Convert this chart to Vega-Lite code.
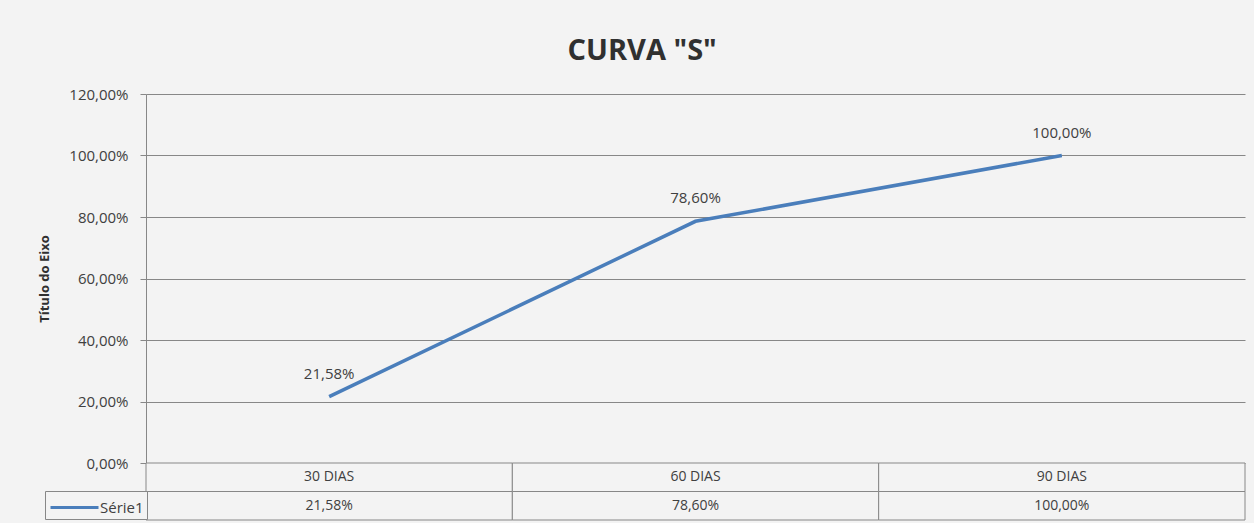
{
  "$schema": "https://vega.github.io/schema/vega-lite/v6.json",
  "padding": {"left": 38, "top": 37, "right": 8, "bottom": 2},
  "background": "#f3f3f3",
  "bounds": "flush",
  "title": {"text": "CURVA \"S\"", "anchor": "middle", "fontSize": 29, "fontWeight": "bold", "font": "Open Sans", "color": "#303030", "offset": 21},
  "datasets": {
    "pts": [
      {"dias": "30 DIAS", "valor": 0.2158, "serie": "Série1"},
      {"dias": "60 DIAS", "valor": 0.786, "serie": "Série1"},
      {"dias": "90 DIAS", "valor": 1.0, "serie": "Série1"}
    ]
  },
  "spacing": 0,
  "vconcat": [
    {
      "width": 1099,
      "height": 369,
      "data": {"name": "pts"},
      "encoding": {
        "x": {"field": "dias", "type": "nominal", "sort": null, "scale": {"paddingInner": 0, "paddingOuter": 0}, "axis": null},
        "y": {"field": "valor", "type": "quantitative", "scale": {"domain": [0, 1.2], "nice": false},
          "axis": {"values": [0, 0.2, 0.4, 0.6, 0.8, 1.0, 1.2], "format": ".2%", "grid": true, "gridColor": "#878787", "domainColor": "#878787", "tickColor": "#878787", "tickSize": 6, "labelFontSize": 15, "labelColor": "#404040", "labelPadding": 12, "title": "Título do Eixo", "titleFontSize": 13, "titleFontWeight": "bold", "titleColor": "#303030", "titlePadding": 17}}
      },
      "layer": [
        {
          "mark": {"type": "line", "strokeWidth": 3.5},
          "encoding": {
            "color": {"field": "serie", "type": "nominal", "scale": {"range": ["#4a7ebb"]},
              "legend": {"orient": "none", "legendX": -101, "legendY": 397, "title": null, "symbolType": "M-2,0H2", "symbolSize": 576, "symbolStrokeWidth": 3, "symbolStrokeColor": "#4a7ebb", "symbolOffset": 13, "labelOffset": 12, "padding": 3, "strokeColor": "#878787", "fillColor": "#f3f3f3", "labelFontSize": 15, "labelColor": "#404040", "labelFont": "Open Sans", "cornerRadius": 0}}
          }
        },
        {
          "mark": {"type": "text", "dy": -23, "fontSize": 15, "color": "#404040", "font": "Open Sans"},
          "encoding": {"text": {"field": "valor", "type": "quantitative", "format": ".2%"}}
        }
      ]
    },
    {
      "width": 1099,
      "height": 57,
      "data": {"name": "pts"},
      "encoding": {
        "x": {"field": "dias", "type": "nominal", "sort": null, "scale": {"paddingInner": 0, "paddingOuter": 0}, "axis": null}
      },
      "layer": [
        {
          "mark": {"type": "rect", "fill": "#f3f3f3", "stroke": "#878787", "strokeWidth": 1},
          "encoding": {"y": {"datum": "h", "type": "nominal", "scale": {"domain": ["h", "v"], "paddingInner": 0, "paddingOuter": 0}, "axis": null}}
        },
        {
          "mark": {"type": "rect", "fill": "#f3f3f3", "stroke": "#878787", "strokeWidth": 1},
          "encoding": {"y": {"datum": "v", "type": "nominal"}}
        },
        {
          "mark": {"type": "text", "fontSize": 14, "color": "#404040", "font": "Open Sans"},
          "encoding": {"y": {"datum": "h", "type": "nominal"}, "text": {"field": "dias", "type": "nominal"}}
        },
        {
          "mark": {"type": "text", "fontSize": 14, "color": "#404040", "font": "Open Sans"},
          "encoding": {"y": {"datum": "v", "type": "nominal"}, "text": {"field": "valor", "type": "quantitative", "format": ".2%"}}
        }
      ]
    }
  ],
  "config": {
    "locale": {"number": {"decimal": ",", "thousands": ".", "grouping": [3], "currency": ["R$", ""]}},
    "font": "Open Sans",
    "view": {"stroke": null}
  }
}
